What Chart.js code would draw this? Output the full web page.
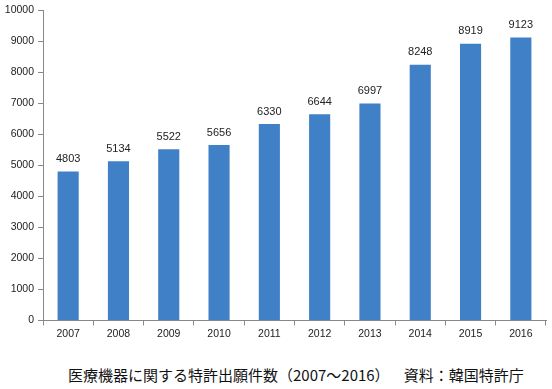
<!DOCTYPE html>
<html><head><meta charset="utf-8">
<script src="https://cdn.jsdelivr.net/npm/chart.js@4/dist/chart.umd.min.js"></script>
<style>
html,body{margin:0;padding:0;background:#fff;}
#wrap{width:552px;height:389px;position:relative;}
#c{position:absolute;left:0;top:0;}
#cap{position:absolute;left:68px;top:365px;font-family:"Noto Sans CJK JP",sans-serif;font-size:15px;line-height:20px;color:#111;white-space:pre;}
</style></head>
<body><div id="wrap"><canvas id="c" width="552" height="351"></canvas><div id="cap"></div></div>
<script>
const categories = ['2007','2008','2009','2010','2011','2012','2013','2014','2015','2016'];
const applications = [4803,5134,5522,5656,6330,6644,6997,8248,8919,9123];
const yTicks = [0,1000,2000,3000,4000,5000,6000,7000,8000,9000,10000];
const caption = '医療機器に関する特許出願件数（2007～2016）　  資料：韓国特許庁';
document.getElementById('cap').textContent = caption;

const valueLabels = {
  id:'valueLabels',
  afterDatasetsDraw(chart){
    const ctx = chart.ctx;
    const meta = chart.getDatasetMeta(0);
    ctx.save();
    ctx.font = '11px "Liberation Sans", Arial, sans-serif';
    ctx.fillStyle = '#222';
    ctx.textAlign = 'center';
    ctx.textBaseline = 'bottom';
    meta.data.forEach((bar,i)=>{
      ctx.fillText(String(applications[i]), bar.x, bar.y - 7);
    });
    ctx.restore();
  }
};

new Chart(document.getElementById('c'), {
  type:'bar',
  data:{labels:categories, datasets:[{data:applications, backgroundColor:'#4080C6', borderWidth:0, barPercentage:0.42, categoryPercentage:1.0}]},
  options:{
    responsive:false, animation:false,
    layout:{padding:{top:5,right:6,left:0,bottom:9}},
    plugins:{legend:{display:false}, tooltip:{enabled:false}, title:{display:false}},
    scales:{
      x:{offset:true,
        grid:{offset:true, drawOnChartArea:false, drawTicks:true, tickLength:5, color:'#888'},
        border:{color:'#888'},
        ticks:{color:'#222', font:{family:'"Liberation Sans", Arial, sans-serif', size:10.5}, padding:2}},
      y:{min:0, max:10000,
        afterBuildTicks(axis){ axis.ticks = yTicks.map(v=>({value:v})); },
        afterFit(axis){ axis.width = 43; },
        grid:{drawOnChartArea:false, drawTicks:true, tickLength:5, color:'#888'},
        border:{color:'#888'},
        ticks:{color:'#222', font:{family:'"Liberation Sans", Arial, sans-serif', size:10.5}, padding:4,
          callback:(v)=>String(v)}}
    }
  },
  plugins:[valueLabels]
});
</script></body></html>
